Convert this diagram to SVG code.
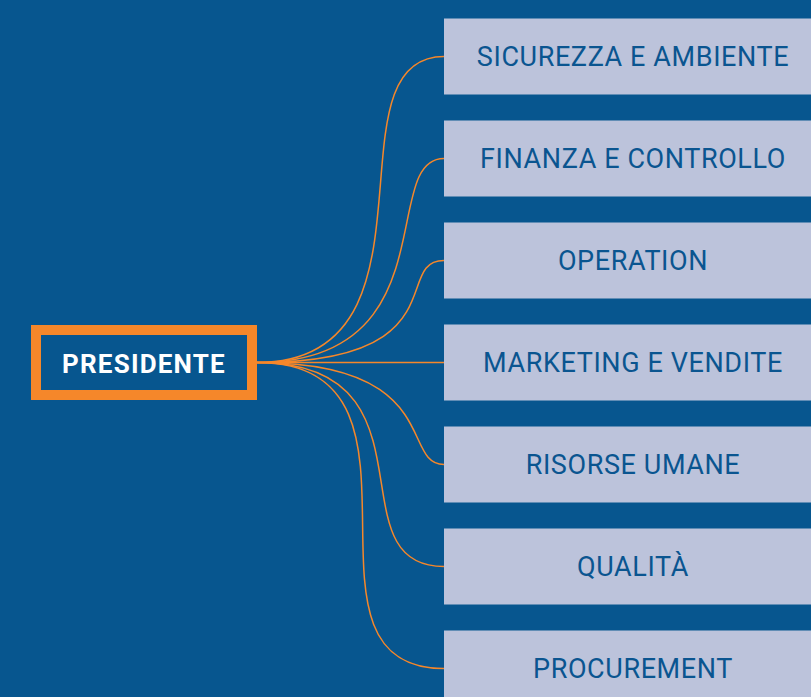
<svg xmlns="http://www.w3.org/2000/svg" width="811" height="697" viewBox="0 0 811 697">
<style>
.bg{fill:#07568f}
.box{fill:#bcc3db}
.lbl{font-family:Roboto,"Liberation Sans",sans-serif;font-size:27px;fill:#0a5590;text-anchor:middle;letter-spacing:0.6px}
.pres{font-family:Roboto,"Liberation Sans",sans-serif;font-size:26px;font-weight:bold;fill:#ffffff;text-anchor:middle;letter-spacing:1.2px}
.conn path{fill:none;stroke:#f5872a;stroke-width:1.5}
</style>
<rect class="bg" x="0" y="0" width="811" height="697"/>
<g class="conn" id="connectors">
<path d="M257,362.5 C452,362.5 323,56.5 444,56.5"/>
<path d="M257,362.5 C450,362.5 378,158.5 444,158.5"/>
<path d="M257,362.5 C459,362.5 392,260.5 444,260.5"/>
<path d="M257,362.5 L444,362.5"/>
<path d="M257,362.5 C444,362.5 400,464.5 444,464.5"/>
<path d="M257,362.5 C444,362.5 331,566.5 444,566.5"/>
<path d="M257,362.5 C456,362.5 277,668.5 444,668.5"/>
</g>
<g id="presidente">
<rect x="36" y="330" width="216" height="65" fill="#07568f" stroke="#f5872a" stroke-width="10"/>
<text class="pres" x="144" y="372.5">PRESIDENTE</text>
</g>
<g id="n1"><rect class="box" x="444" y="18.5" width="380" height="76"/><text class="lbl" x="633" y="66">SICUREZZA E AMBIENTE</text></g>
<g id="n2"><rect class="box" x="444" y="120.5" width="380" height="76"/><text class="lbl" x="633" y="168">FINANZA E CONTROLLO</text></g>
<g id="n3"><rect class="box" x="444" y="222.5" width="380" height="76"/><text class="lbl" x="633" y="270">OPERATION</text></g>
<g id="n4"><rect class="box" x="444" y="324.5" width="380" height="76"/><text class="lbl" x="633" y="372">MARKETING E VENDITE</text></g>
<g id="n5"><rect class="box" x="444" y="426.5" width="380" height="76"/><text class="lbl" x="633" y="474">RISORSE UMANE</text></g>
<g id="n6"><rect class="box" x="444" y="528.5" width="380" height="76"/><text class="lbl" x="633" y="576">QUALITÀ</text></g>
<g id="n7"><rect class="box" x="444" y="630.5" width="380" height="76"/><text class="lbl" x="633" y="678">PROCUREMENT</text></g>
</svg>
